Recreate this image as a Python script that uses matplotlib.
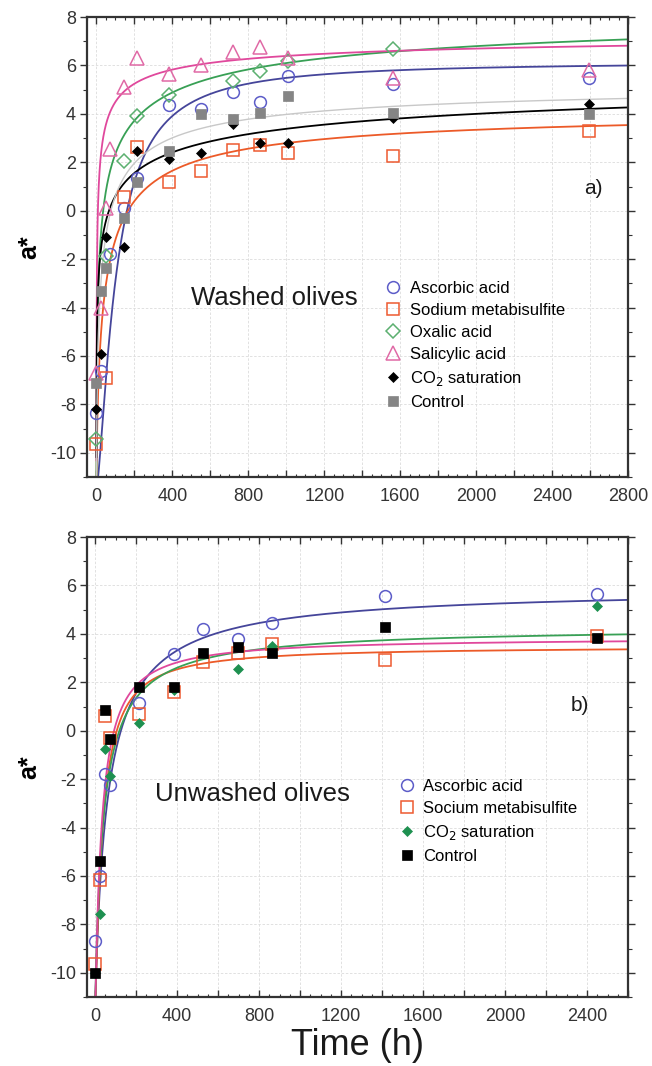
import numpy as np
import matplotlib
matplotlib.use("Agg")
import matplotlib.pyplot as plt
from matplotlib.ticker import MultipleLocator, FuncFormatter

plt.rcParams['font.family'] = ['Liberation Sans', 'DejaVu Sans']
plt.rcParams['axes.unicode_minus'] = False

nan = np.nan
# ---------------- Panel a) washed olives ----------------
time_a = [0, 24, 48, 72, 144, 216, 384, 552, 720, 864, 1008, 1560, 2592]
ascorbic_a = [-8.35, -6.6, nan, -1.8, 0.1, 1.37, 4.35, 4.2, 4.9, 4.48, 5.58, 5.25, 5.5]
sodium_a = [-9.63, nan, -6.9, nan, 0.55, 2.65, 1.2, 1.65, 2.5, 2.7, 2.4, 2.27, 3.3]
oxalic_a = [-9.42, nan, -1.85, nan, 2.05, 3.9, 4.8, nan, 5.37, 5.79, 6.2, 6.7, nan]
salicylic_a = [-6.7, -4.0, 0.1, 2.55, 5.1, 6.3, 5.65, 6.0, 6.55, 6.75, 6.3, 5.5, 5.8]
co2_a = [-8.2, -5.9, -1.1, nan, -1.5, 2.45, 2.15, 2.4, 3.6, 2.8, 2.8, 3.85, 4.4]
control_a = [-7.1, -3.3, -2.35, nan, -0.3, 1.2, 2.45, 4.0, 3.8, 4.05, 4.75, 4.05, 4.0]

# ---------------- Panel b) unwashed olives ----------------
time_b = [0, 24, 48, 72, 216, 384, 528, 696, 864, 1416, 2448]
ascorbic_b = [-8.7, -6.0, -1.8, -2.25, 1.16, 3.15, 4.22, 3.77, 4.43, 5.55, 5.63]
sodium_b = [-9.65, -6.15, 0.62, -0.3, 0.7, 1.58, 2.82, 3.2, 3.6, 2.93, 3.9]
co2_b = [-10.0, -7.55, -0.75, -1.86, 0.33, 1.7, nan, 2.57, 3.52, nan, 5.17]
control_b = [-10.0, -5.4, 0.87, -0.33, 1.82, 1.82, 3.2, 3.45, 3.2, 4.3, 3.85]

labels_a = ["Ascorbic acid", "Sodium metabisulfite", "Oxalic acid",
            "Salicylic acid", "CO$_2$ saturation", "Control"]
labels_b = ["Ascorbic acid", "Socium metabisulfite", "CO$_2$ saturation", "Control"]

# fitted-curve parameters  y = Y0 + A t^d / (K^d + t^d)
Y0 = -11.5
fit_A_a = [17.657, 15.818, 20.371, 19.029, 18.259, 16.939]
fit_K_a = [103.37, 40.88, 20.39, 3.01, 14.40, 22.89]
fit_d_a = [1.425, 0.700, 0.475, 0.475, 0.350, 0.625]
fit_A_b = [17.432, 14.983, 15.814, 15.346]
fit_K_b = [61.34, 36.40, 40.88, 32.42]
fit_d_b = [0.925, 1.125, 0.925, 1.050]


def model(tt, A, K, d):
    return Y0 + A * tt ** d / (K ** d + tt ** d)


fig = plt.figure(figsize=(6.52, 10.66), dpi=100)
ax1 = fig.add_axes([0.1334, 0.5525, 0.8298, 0.4315])
ax2 = fig.add_axes([0.1334, 0.0647, 0.8298, 0.4315])

tick_col = '#333333'


def style_axes(ax, xmax, xmin):
    ax.set_xlim(xmin, xmax)
    ax.set_ylim(-11, 8)
    ax.xaxis.set_major_locator(MultipleLocator(200))
    ax.xaxis.set_minor_locator(MultipleLocator(50))
    ax.xaxis.set_major_formatter(FuncFormatter(
        lambda v, p: f"{int(round(v))}" if int(round(v)) % 400 == 0 else ""))
    ax.yaxis.set_major_locator(MultipleLocator(2))
    ax.yaxis.set_minor_locator(MultipleLocator(1))
    ax.grid(True, which='major', color='#dcdcdc', linestyle=(0, (3, 2)), linewidth=0.6)
    ax.set_axisbelow(True)
    ax.tick_params(axis='x', which='both', direction='in', top=True, bottom=True,
                   labelsize=13, colors=tick_col, pad=8)
    ax.tick_params(axis='x', which='major', length=5, width=1)
    ax.tick_params(axis='x', which='minor', length=2.5, width=0.8)
    ax.tick_params(axis='y', which='both', direction='out', left=True, right=True,
                   labelsize=13, colors=tick_col, pad=3)
    ax.tick_params(axis='y', which='major', length=5, width=1)
    ax.tick_params(axis='y', which='minor', length=3, width=0.8)
    for s in ax.spines.values():
        s.set_color('#333333')
        s.set_linewidth(1.6)
    ax.set_ylabel("a*", fontsize=18, fontweight='bold', labelpad=6)


style_axes(ax1, 2800, -50)
style_axes(ax2, 2600, -40)

# ---- panel a ----
tt = np.linspace(0.01, 2800, 3000)
styles_a = [
    (dict(marker='o', mfc='none', mec='#5c5cc8', ms=8.5, mew=1.1), '#45459a', 1.3),
    (dict(marker='s', mfc='none', mec='#ee5a30', ms=8, mew=1.1), '#ec5a28', 1.3),
    (dict(marker='D', mfc='none', mec='#5cb070', ms=7.5, mew=1.1), '#38a055', 1.3),
    (dict(marker='^', mfc='none', mec='#e06aa6', ms=9.5, mew=1.1), '#e0489c', 1.3),
    (dict(marker='D', mfc='black', mec='black', ms=5.5, mew=0.5), 'black', 1.3),
    (dict(marker='s', mfc='#858585', mec='#858585', ms=6.5, mew=0.5), '#c8c8c8', 1.0),
]
values_a = [ascorbic_a, sodium_a, oxalic_a, salicylic_a, co2_a, control_a]
for (mk, lc, lw), A, K, d in zip(styles_a, fit_A_a, fit_K_a, fit_d_a):
    ax1.plot(tt, model(tt, A, K, d), color=lc, lw=lw, zorder=2)
handles = []
for (mk, lc, lw), vals, lab in zip(styles_a, values_a, labels_a):
    h, = ax1.plot(time_a, vals, linestyle='none', label=lab, zorder=3, **mk)
    handles.append(h)
ax1.legend(handles=handles, loc='upper left', bbox_to_anchor=(0.535, 0.44),
           frameon=False, fontsize=12, handletextpad=0.4, labelspacing=0.42,
           handlelength=1.2, borderaxespad=0)
ax1.text(500, -3.6, "Washed olives", fontsize=18.5, va='center', ha='left', color='#1a1a1a')
ax1.text(2570, 0.9, "a)", fontsize=15, va='center', ha='left', color='#1a1a1a')

# ---- panel b ----
tt2 = np.linspace(0.01, 2600, 3000)
styles_b = [
    (dict(marker='o', mfc='none', mec='#5c5cc8', ms=8.5, mew=1.1), '#45459a'),
    (dict(marker='s', mfc='none', mec='#ee5a30', ms=8, mew=1.1), '#ec5a28'),
    (dict(marker='D', mfc='#1e9050', mec='#1e9050', ms=5, mew=0.5), '#38a055'),
    (dict(marker='s', mfc='black', mec='black', ms=6.5, mew=0.5), '#e0489c'),
]
values_b = [ascorbic_b, sodium_b, co2_b, control_b]
for (mk, lc), A, K, d in zip(styles_b, fit_A_b, fit_K_b, fit_d_b):
    ax2.plot(tt2, model(tt2, A, K, d), color=lc, lw=1.3, zorder=2)
handles = []
for (mk, lc), vals, lab in zip(styles_b, values_b, labels_b):
    h, = ax2.plot(time_b, vals, linestyle='none', label=lab, zorder=3, **mk)
    handles.append(h)
ax2.legend(handles=handles, loc='upper left', bbox_to_anchor=(0.56, 0.488),
           frameon=False, fontsize=12, handletextpad=0.4, labelspacing=0.42,
           handlelength=1.2, borderaxespad=0)
ax2.text(290, -2.6, "Unwashed olives", fontsize=18.5, va='center', ha='left', color='#1a1a1a')
ax2.text(2320, 1.05, "b)", fontsize=15, va='center', ha='left', color='#1a1a1a')
ax2.set_xlabel("Time (h)", fontsize=26, color='#1a1a1a', labelpad=2)

fig.savefig("out.png", dpi=100)
